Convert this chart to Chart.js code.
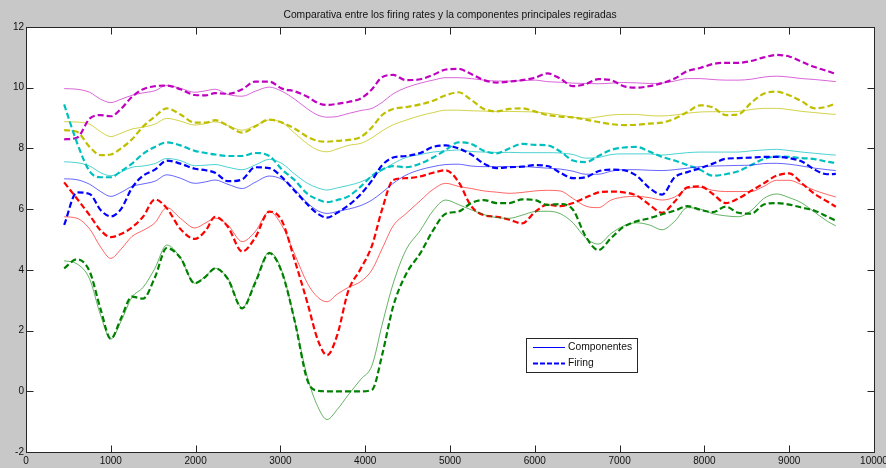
<!DOCTYPE html>
<html>
<head>
<meta charset="utf-8">
<title>Comparativa firing rates</title>
<script src="https://cdn.jsdelivr.net/npm/chart.js@4.4.1/dist/chart.umd.min.js"></script>
<style>
    html, body { margin: 0; padding: 0; background: #c8c8c8; }
    #chart-comparativa { display: block; }
</style>
</head>
<body>
<canvas id="chart-comparativa" width="886" height="468"></canvas>
<script>
// Eje x (muestras) compartido por todas las curvas
const xs = [450, 600, 750, 880, 1000, 1120, 1250, 1380, 1520, 1660, 1820, 1990, 2120, 2230, 2380, 2550,
    2700, 2870, 3020, 3170, 3320, 3440, 3550, 3670, 3800, 3950, 4080, 4200, 4330, 4480, 4650, 4800, 4950,
    5100, 5250, 5400, 5550, 5700, 5850, 6000, 6150, 6300, 6450, 6600, 6750, 6900, 7050, 7200, 7350, 7500,
    7650, 7800, 7950, 8100, 8250, 8400, 8550, 8700, 8850, 9000, 9150, 9300, 9450, 9550];

// Componentes principales regiradas (linea continua)
const compBlue = [7.0, 6.97, 6.82, 6.58, 6.42, 6.55, 6.75, 6.83, 6.92, 7.13, 7.02, 6.85, 6.9, 6.96, 6.82, 6.68,
    6.88, 7.09, 6.98, 6.65, 6.2, 5.95, 5.86, 5.92, 6.0, 6.12, 6.3, 6.55, 6.85, 7.12, 7.3, 7.4, 7.47,
    7.48, 7.42, 7.4, 7.4, 7.4, 7.4, 7.38, 7.35, 7.32, 7.25, 7.15, 7.15, 7.25, 7.3, 7.3, 7.28, 7.27,
    7.3, 7.35, 7.4, 7.42, 7.43, 7.44, 7.45, 7.5, 7.51, 7.48, 7.42, 7.35, 7.3, 7.27];
const compGreen = [4.3, 4.2, 3.7, 2.5, 1.72, 2.3, 3.1, 3.42, 4.05, 4.82, 4.4, 3.56, 3.8, 4.05, 3.72, 2.75,
    3.6, 4.58, 3.95, 2.3, 0.45, -0.5, -0.93, -0.6, -0.12, 0.4, 0.85, 2.2, 3.55, 4.65, 5.3, 5.95, 6.3,
    6.15, 5.98, 5.82, 5.72, 5.7, 5.8, 5.92, 5.93, 5.85, 5.55, 5.05, 4.85, 5.2, 5.45, 5.55, 5.48, 5.32,
    5.6, 6.05, 6.0, 5.85, 5.78, 5.75, 5.95, 6.35, 6.5, 6.38, 6.2, 5.9, 5.6, 5.45];
const compRed = [5.75, 5.7, 5.35, 4.75, 4.38, 4.68, 5.1, 5.3, 5.55, 6.05, 5.7, 5.38, 5.55, 5.7, 5.48, 4.93,
    5.25, 5.92, 5.45, 4.5, 3.55, 3.1, 2.95, 3.2, 3.42, 3.62, 4.0, 4.7, 5.45, 5.85, 6.28, 6.65, 6.85,
    6.75, 6.68, 6.6, 6.56, 6.52, 6.55, 6.6, 6.62, 6.6, 6.35, 6.1, 6.05, 6.3, 6.4, 6.42, 6.38, 6.3,
    6.4, 6.68, 6.72, 6.62, 6.58, 6.58, 6.58, 6.75, 6.95, 6.95, 6.8, 6.62, 6.48, 6.4];
const compCyan = [7.56, 7.53, 7.42, 7.2, 7.1, 7.22, 7.38, 7.42, 7.5, 7.67, 7.6, 7.43, 7.45, 7.47, 7.38, 7.3,
    7.45, 7.64, 7.5, 7.15, 6.85, 6.7, 6.63, 6.7, 6.78, 6.9, 7.08, 7.28, 7.5, 7.7, 7.8, 7.88, 7.92,
    7.95, 7.9, 7.88, 7.87, 7.87, 7.86, 7.86, 7.86, 7.85, 7.8, 7.68, 7.7, 7.8, 7.82, 7.82, 7.82, 7.78,
    7.82, 7.86, 7.88, 7.88, 7.88, 7.88, 7.92, 7.95, 7.97, 7.93, 7.88, 7.84, 7.8, 7.78];
const compMagenta = [9.97, 9.95, 9.85, 9.62, 9.51, 9.62, 9.75, 9.83, 9.9, 10.08, 9.98, 9.85, 9.9, 9.95, 9.78, 9.72,
    9.88, 10.02, 9.88, 9.62, 9.3, 9.1, 9.03, 9.05, 9.15, 9.25, 9.32, 9.52, 9.8, 10.0, 10.15, 10.25, 10.33,
    10.33, 10.3, 10.25, 10.22, 10.22, 10.23, 10.25, 10.2, 10.18, 10.15, 10.14, 10.13, 10.15, 10.17, 10.16, 10.14, 10.15,
    10.22, 10.3, 10.3, 10.27, 10.25, 10.25, 10.28, 10.35, 10.38, 10.35, 10.3, 10.27, 10.23, 10.2];
const compYellow = [8.88, 8.87, 8.8, 8.55, 8.39, 8.5, 8.64, 8.7, 8.8, 8.99, 8.9, 8.77, 8.82, 8.88, 8.75, 8.6,
    8.75, 8.94, 8.85, 8.5, 8.15, 7.95, 7.89, 7.98, 8.1, 8.17, 8.35, 8.58, 8.78, 8.93, 9.08, 9.18, 9.26,
    9.26, 9.24, 9.23, 9.22, 9.22, 9.21, 9.2, 9.16, 9.1, 9.03, 8.99, 9.04, 9.1, 9.12, 9.12, 9.08, 9.07,
    9.1, 9.16, 9.2, 9.21, 9.21, 9.22, 9.28, 9.32, 9.32, 9.28, 9.22, 9.18, 9.14, 9.12];

// Firing rates (linea discontinua)
const firingBlue = [5.48, 6.55, 6.5, 5.97, 5.76, 6.0, 6.7, 7.1, 7.3, 7.6, 7.5, 7.33, 7.28, 7.2, 6.92, 6.98,
    7.38, 7.35, 7.05, 6.6, 6.15, 5.85, 5.72, 5.88, 6.12, 6.5, 6.95, 7.45, 7.7, 7.75, 7.85, 8.05, 8.1,
    8.0, 7.8, 7.5, 7.35, 7.38, 7.4, 7.45, 7.42, 7.2, 7.02, 7.05, 7.25, 7.3, 7.28, 7.1, 6.7, 6.48,
    7.05, 7.22, 7.35, 7.5, 7.66, 7.68, 7.7, 7.72, 7.72, 7.68, 7.57, 7.3, 7.15, 7.16];
const firingGreen = [4.05, 4.35, 3.95, 2.7, 1.73, 2.4, 3.12, 3.05, 3.75, 4.72, 4.4, 3.56, 3.78, 4.05, 3.7, 2.73,
    3.55, 4.55, 3.9, 2.3, 0.35, 0.02, 0.0, 0.0, 0.0, 0.0, 0.05, 1.2, 2.8, 3.85, 4.55, 5.3, 5.85,
    5.92, 6.2, 6.3, 6.2, 6.2, 6.32, 6.3, 6.14, 6.17, 5.98, 5.1, 4.65, 5.05, 5.42, 5.6, 5.7, 5.83,
    5.95, 6.1, 5.98, 5.9, 6.08, 5.88, 5.85, 6.15, 6.2, 6.15, 6.05, 5.95, 5.75, 5.62];
const firingRed = [6.88, 6.35, 5.8, 5.3, 5.08, 5.18, 5.4, 5.75, 6.32, 6.03, 5.35, 5.02, 5.3, 5.75, 5.42, 4.6,
    5.05, 5.92, 5.6, 4.3, 2.9, 1.7, 1.19, 1.85, 3.3, 4.05, 4.8, 6.0, 6.96, 7.02, 7.08, 7.2, 7.28,
    6.9, 6.1, 5.8, 5.75, 5.65, 5.53, 5.9, 6.15, 6.1, 6.2, 6.38, 6.55, 6.58, 6.55, 6.45, 6.15, 5.88,
    6.25, 6.72, 6.75, 6.5, 6.2, 6.35, 6.6, 6.85, 7.1, 7.18, 6.85, 6.5, 6.25, 6.08];
const firingCyan = [9.45, 8.2, 7.25, 7.05, 7.05, 7.25, 7.5, 7.82, 8.05, 8.2, 8.1, 7.92, 7.85, 7.8, 7.75, 7.75,
    7.85, 7.75, 7.3, 6.95, 6.5, 6.32, 6.23, 6.3, 6.42, 6.75, 7.1, 7.3, 7.42, 7.38, 7.5, 7.7, 7.95,
    8.2, 8.15, 7.92, 7.84, 8.0, 8.15, 8.12, 8.1, 7.9, 7.6, 7.55, 7.75, 7.95, 8.03, 8.05, 7.9, 7.72,
    7.6, 7.45, 7.3, 7.1, 7.15, 7.25, 7.45, 7.65, 7.73, 7.72, 7.68, 7.65, 7.56, 7.52];
const firingMagenta = [8.3, 8.35, 8.98, 9.1, 9.06, 9.3, 9.7, 9.95, 10.05, 10.07, 9.95, 9.76, 9.75, 9.82, 9.8, 9.95,
    10.2, 10.2, 9.97, 9.88, 9.7, 9.5, 9.43, 9.47, 9.53, 9.65, 9.95, 10.35, 10.42, 10.25, 10.28, 10.42, 10.6,
    10.62, 10.45, 10.25, 10.17, 10.2, 10.25, 10.33, 10.47, 10.3, 10.05, 10.12, 10.28, 10.25, 10.05, 10.0, 10.05, 10.15,
    10.3, 10.55, 10.65, 10.78, 10.82, 10.82, 10.88, 11.0, 11.08, 11.03, 10.85, 10.68, 10.55, 10.45];
const firingYellow = [8.6, 8.55, 8.05, 7.78, 7.8, 8.0, 8.3, 8.72, 9.05, 9.32, 9.12, 8.85, 8.85, 8.93, 8.75, 8.52,
    8.72, 8.95, 8.85, 8.65, 8.38, 8.25, 8.22, 8.25, 8.28, 8.38, 8.7, 9.1, 9.3, 9.36, 9.45, 9.57, 9.75,
    9.85, 9.6, 9.3, 9.22, 9.3, 9.32, 9.22, 9.1, 9.05, 9.02, 8.95, 8.87, 8.8, 8.77, 8.78, 8.82, 8.85,
    8.98, 9.2, 9.42, 9.35, 9.1, 9.12, 9.5, 9.8, 9.87, 9.75, 9.55, 9.32, 9.38, 9.49];

const xTicks = [0, 1000, 2000, 3000, 4000, 5000, 6000, 7000, 8000, 9000, 10000];
const yTicks = [-2, 0, 2, 4, 6, 8, 10, 12];
const seriesLabels = ['Componentes', 'Firing'];
const chartTitle = 'Comparativa entre los firing rates y la componentes principales regiradas';

const FONT = '"Liberation Sans", Arial, Helvetica, sans-serif';
const AXIS_COLOR = '#262626';

document.addEventListener('DOMContentLoaded', function() {
    initComparativaChart();
});

function toPoints(values) {
    return values.map((v, i) => ({ x: xs[i], y: v }));
}

function lineDataset(label, values, color, dashed) {
    return {
        label: label,
        data: toPoints(values),
        borderColor: dashed ? color.solid : color.light,
        borderWidth: dashed ? 2.2 : 1,
        borderDash: dashed ? [6, 3] : [],
        pointRadius: 0,
        fill: false,
        cubicInterpolationMode: 'monotone'
    };
}

// Marco estilo MATLAB: fondo blanco, caja, ticks hacia dentro, titulo y leyenda
const matlabFrame = {
    id: 'matlabFrame',
    beforeDraw(chart) {
        const { ctx, chartArea: a } = chart;
        ctx.save();
        ctx.fillStyle = '#ffffff';
        ctx.fillRect(a.left, a.top, a.right - a.left, a.bottom - a.top);
        ctx.restore();
    },
    afterDatasetsDraw(chart) {
        const { ctx, chartArea: a, scales } = chart;
        const L = Math.round(a.left) + 0.5, R = Math.round(a.right) + 0.5;
        const T = Math.round(a.top) + 0.5, B = Math.round(a.bottom) + 0.5;
        const len = 7;
        ctx.save();
        ctx.strokeStyle = AXIS_COLOR;
        ctx.lineWidth = 1;
        ctx.strokeRect(L, T, R - L, B - T);
        ctx.beginPath();
        xTicks.slice(1, -1).forEach(v => {
            const px = Math.round(scales.x.getPixelForValue(v)) + 0.5;
            ctx.moveTo(px, B); ctx.lineTo(px, B - len);
            ctx.moveTo(px, T); ctx.lineTo(px, T + len);
        });
        yTicks.slice(1, -1).forEach(v => {
            const py = Math.round(scales.y.getPixelForValue(v)) + 0.5;
            ctx.moveTo(L, py); ctx.lineTo(L + len, py);
            ctx.moveTo(R, py); ctx.lineTo(R - len, py);
        });
        ctx.stroke();
        ctx.restore();
    },
    afterDraw(chart) {
        const { ctx, chartArea: a } = chart;
        ctx.save();
        // Titulo
        ctx.fillStyle = '#111111';
        ctx.font = '10.3px ' + FONT;
        ctx.textAlign = 'center';
        ctx.textBaseline = 'middle';
        ctx.fillText(chartTitle, (a.left + a.right) / 2, 15);

        // Leyenda (solo las dos primeras curvas)
        const box = { x: 526.5, y: 338.5, w: 111, h: 34 };
        ctx.fillStyle = '#ffffff';
        ctx.fillRect(box.x, box.y, box.w, box.h);
        ctx.strokeStyle = AXIS_COLOR;
        ctx.lineWidth = 1;
        ctx.strokeRect(box.x, box.y, box.w, box.h);
        const rows = [347, 362.5];
        ctx.textAlign = 'left';
        rows.forEach((y, i) => {
            const ds = chart.data.datasets[i];
            ctx.beginPath();
            ctx.strokeStyle = '#0000ff';
            ctx.lineWidth = i === 0 ? 1 : 2;
            ctx.setLineDash(i === 0 ? [] : [5, 2]);
            ctx.moveTo(533, Math.round(y) + 0.5);
            ctx.lineTo(565, Math.round(y) + 0.5);
            ctx.stroke();
            ctx.setLineDash([]);
            ctx.fillStyle = '#111111';
            ctx.fillText(ds.label, 568, y + 0.5);
        });
        ctx.restore();
    }
};

function initComparativaChart() {
    const ctx = document.getElementById('chart-comparativa');
    if (!ctx) return;

    // Orden de colores por defecto de MATLAB
    const colors = {
        blue:    { solid: '#0000ff', light: 'rgba(0, 0, 255, 0.6)' },
        green:   { solid: '#008000', light: 'rgba(0, 128, 0, 0.6)' },
        red:     { solid: '#ff0000', light: 'rgba(255, 0, 0, 0.6)' },
        cyan:    { solid: '#00bfbf', light: 'rgba(0, 191, 191, 0.7)' },
        magenta: { solid: '#bf00bf', light: 'rgba(191, 0, 191, 0.6)' },
        yellow:  { solid: '#bfbf00', light: 'rgba(191, 191, 0, 0.7)' }
    };

    const pairs = [
        [compBlue, firingBlue, colors.blue],
        [compGreen, firingGreen, colors.green],
        [compRed, firingRed, colors.red],
        [compCyan, firingCyan, colors.cyan],
        [compMagenta, firingMagenta, colors.magenta],
        [compYellow, firingYellow, colors.yellow]
    ];

    const datasets = [];
    pairs.forEach(p => {
        datasets.push(lineDataset(seriesLabels[0], p[0], p[2], false));
        datasets.push(lineDataset(seriesLabels[1], p[1], p[2], true));
    });

    const tickFont = { family: FONT, size: 10 };

    new Chart(ctx, {
        type: 'line',
        data: { datasets: datasets },
        plugins: [matlabFrame],
        options: {
            responsive: false,
            animation: false,
            devicePixelRatio: 1,
            layout: {
                autoPadding: false,
                padding: { top: 27, right: 12, left: 0, bottom: 0 }
            },
            plugins: {
                legend: { display: false },
                title: { display: false },
                tooltip: { enabled: false }
            },
            scales: {
                x: {
                    type: 'linear',
                    min: 0,
                    max: 10000,
                    afterBuildTicks: scale => { scale.ticks = xTicks.map(v => ({ value: v })); },
                    ticks: {
                        autoSkip: false,
                        maxRotation: 0,
                        padding: 3,
                        color: '#111111',
                        font: tickFont,
                        callback: value => String(value)
                    },
                    grid: { display: false, drawTicks: false },
                    border: { display: false },
                    afterFit: scale => {
                        scale.height = 16;
                        scale.paddingLeft = 0;
                        scale.paddingRight = 0;
                    }
                },
                y: {
                    min: -2,
                    max: 12,
                    afterBuildTicks: scale => { scale.ticks = yTicks.map(v => ({ value: v })); },
                    ticks: {
                        padding: 2,
                        color: '#111111',
                        font: tickFont,
                        callback: value => String(value)
                    },
                    grid: { display: false, drawTicks: false },
                    border: { display: false },
                    afterFit: scale => {
                        scale.width = 26;
                        scale.paddingTop = 0;
                        scale.paddingBottom = 0;
                    }
                }
            }
        }
    });
}
</script>
</body>
</html>
